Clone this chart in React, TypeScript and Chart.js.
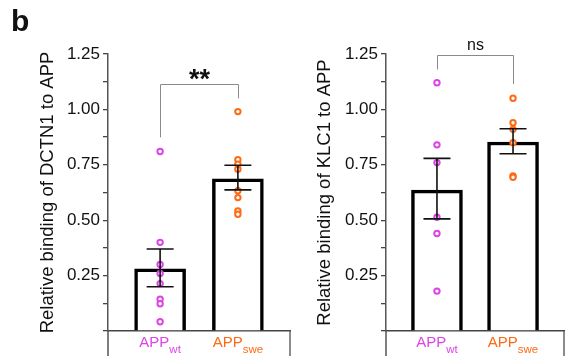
import React, { useEffect, useRef } from 'react';
import { Chart, registerables } from 'chart.js';

Chart.register(...registerables);

const FONT = '"Liberation Sans", Arial, Helvetica, sans-serif';

// ---- shared data ----
const groups = ['wt', 'swe'];
const groupPrefix = 'APP';
const groupColors = ['#dd44e6', '#ff6a14'];
const yTickValues = [0, 0.125, 0.25, 0.375, 0.5, 0.625, 0.75, 0.875, 1.0, 1.125, 1.25];
const yTickLabels = ['', '', '0.25', '', '0.50', '', '0.75', '', '1.00', '', '1.25'];
const panelLetter = 'b';

// ---- DCTN1 panel ----
const dctn1Title = 'Relative binding of DCTN1 to APP';
const dctn1Means = [0.28, 0.687];
const dctn1ErrLow = [0.2, 0.637];
const dctn1ErrHigh = [0.37, 0.748];
const dctn1WtPoints = [0.81, 0.4, 0.3, 0.26, 0.214, 0.143, 0.123, 0.042];
const dctn1SwePoints = [0.99, 0.773, 0.753, 0.73, 0.633, 0.602, 0.542, 0.527];
const dctn1BracketTop = 1.115;
const dctn1BracketLegs = [0.874, 1.05];
const dctn1Sig = '**';

// ---- KLC1 panel ----
const klc1Title = 'Relative binding of KLC1 to APP';
const klc1Means = [0.636, 0.853];
const klc1ErrLow = [0.506, 0.8];
const klc1ErrHigh = [0.779, 0.913];
const klc1WtPoints = [1.12, 0.84, 0.76, 0.513, 0.44, 0.18];
const klc1SwePoints = [1.05, 0.94, 0.91, 0.85, 0.7, 0.694];
const klc1BracketTop = 1.245;
const klc1BracketLegs = [1.18, 1.115];
const klc1Sig = 'ns';

type Panel = {
  id: string;
  title: string;
  means: number[];
  errLow: number[];
  errHigh: number[];
  points: number[][];
  bracketTop: number;
  bracketLegs: number[];
  sig: string;
  sigBold: boolean;
  axisWidth: number;
  titlePad: number;
  padRight: number;
  letter?: string;
};

function buildChart(canvas: HTMLCanvasElement, p: Panel) {
  const plugin = {
    id: 'extras_' + p.id,
    afterDatasetsDraw(chart: any) {
      const { ctx, scales } = chart;
      const x = scales.x;
      const y = scales.y;
      ctx.save();
      ctx.strokeStyle = '#111';
      ctx.lineWidth = 1.6;
      p.errLow.forEach((lo, i) => {
        const cx = x.getPixelForValue(i);
        const y1 = y.getPixelForValue(lo);
        const y2 = y.getPixelForValue(p.errHigh[i]);
        ctx.beginPath();
        ctx.moveTo(cx, y1);
        ctx.lineTo(cx, y2);
        ctx.moveTo(cx - 13.5, y1);
        ctx.lineTo(cx + 13.5, y1);
        ctx.moveTo(cx - 13.5, y2);
        ctx.lineTo(cx + 13.5, y2);
        ctx.stroke();
      });
      ctx.restore();
    },
    afterDraw(chart: any) {
      const { ctx, scales, chartArea } = chart;
      const x = scales.x;
      const y = scales.y;
      ctx.save();
      // significance bracket
      const xa = Math.round(x.getPixelForValue(0)) + 0.5;
      const xb = Math.round(x.getPixelForValue(1)) + 0.5;
      const yt = Math.round(y.getPixelForValue(p.bracketTop)) + 0.5;
      ctx.strokeStyle = '#8a8a8a';
      ctx.lineWidth = 1;
      ctx.beginPath();
      ctx.moveTo(xa, y.getPixelForValue(p.bracketLegs[0]));
      ctx.lineTo(xa, yt);
      ctx.lineTo(xb, yt);
      ctx.lineTo(xb, y.getPixelForValue(p.bracketLegs[1]));
      ctx.stroke();
      ctx.fillStyle = '#111';
      ctx.textAlign = 'center';
      ctx.textBaseline = 'alphabetic';
      if (p.sigBold) {
        ctx.font = 'bold 27px ' + FONT;
        ctx.fillText(p.sig, (xa + xb) / 2, yt + 3);
      } else {
        ctx.font = '16px ' + FONT;
        ctx.fillText(p.sig, (xa + xb) / 2, yt - 6);
      }
      // box under x axis
      const bot = chartArea.bottom;
      const boxBottom = bot + 25.5;
      ctx.lineWidth = 1.5;
      ctx.strokeStyle = '#555';
      ctx.beginPath();
      ctx.moveTo(chartArea.left, bot);
      ctx.lineTo(chartArea.left, boxBottom + 1);
      ctx.stroke();
      ctx.strokeStyle = '#666';
      ctx.beginPath();
      ctx.moveTo(chartArea.right, bot);
      ctx.lineTo(chartArea.right, boxBottom);
      ctx.stroke();
      ctx.strokeStyle = '#d0d0d0';
      ctx.lineWidth = 1;
      ctx.beginPath();
      ctx.moveTo(chartArea.left, boxBottom);
      ctx.lineTo(chartArea.right, boxBottom);
      ctx.stroke();
      // x labels with subscripts
      ctx.textAlign = 'left';
      groups.forEach((g, i) => {
        const cx = x.getPixelForValue(i);
        ctx.font = '15px ' + FONT;
        const wMain = ctx.measureText(groupPrefix).width;
        ctx.font = '11.5px ' + FONT;
        const wSub = ctx.measureText(g).width;
        const start = cx - (wMain + wSub) / 2;
        ctx.fillStyle = groupColors[i];
        ctx.font = '15px ' + FONT;
        ctx.fillText(groupPrefix, start, bot + 15.5);
        ctx.font = '11.5px ' + FONT;
        ctx.fillText(g, start + wMain, bot + 22);
      });
      if (p.letter) {
        ctx.fillStyle = '#111';
        ctx.font = 'bold 30px ' + FONT;
        ctx.textAlign = 'left';
        ctx.fillText(p.letter, 11, 31);
      }
      ctx.restore();
    },
  };

  const datasets: any[] = [
    {
      type: 'bar',
      data: p.means.map((m, i) => ({ x: i, y: m })),
      backgroundColor: '#ffffff',
      borderColor: '#000000',
      borderWidth: 3.5,
      barThickness: 51,
      order: 3,
    },
  ];
  p.points.forEach((pts, i) => {
    datasets.push({
      type: 'scatter',
      data: pts.map((v) => ({ x: i, y: v })),
      pointRadius: 2.7,
      pointBorderWidth: 2,
      pointBackgroundColor: '#ffffff',
      pointBorderColor: groupColors[i],
      order: 1,
    });
  });

  return new Chart(canvas, {
    type: 'bar',
    data: { datasets },
    options: {
      animation: false,
      responsive: false,
      devicePixelRatio: 1,
      layout: { padding: { left: 0, right: p.padRight, top: 54, bottom: 17 } },
      plugins: { legend: { display: false }, tooltip: { enabled: false } },
      scales: {
        x: {
          type: 'linear',
          min: -0.67,
          max: 1.67,
          offset: false,
          ticks: { display: false },
          grid: { display: false },
          border: { display: true, color: '#444', width: 1.5 },
        },
        y: {
          min: 0,
          max: 1.25,
          afterBuildTicks: (s: any) => {
            s.ticks = yTickValues.map((v) => ({ value: v }));
          },
          afterFit: (s: any) => {
            s.width = p.axisWidth;
          },
          ticks: {
            autoSkip: false,
            padding: 3,
            color: '#111',
            font: { family: FONT, size: 17 },
            callback: (_v: any, i: number) => yTickLabels[i],
          },
          grid: { drawOnChartArea: false, tickLength: 5, color: '#444', lineWidth: 1.3 },
          border: { display: true, color: '#555', width: 1.5 },
          title: {
            display: true,
            text: p.title,
            color: '#111',
            font: { family: FONT, size: 18.5 },
            padding: { top: p.titlePad, bottom: 0 },
          },
        },
      },
    },
    plugins: [plugin],
  } as any);
}

export default function App() {
  const leftRef = useRef<HTMLCanvasElement>(null);
  const rightRef = useRef<HTMLCanvasElement>(null);

  useEffect(() => {
    const c1 = buildChart(leftRef.current!, {
      id: 'dctn1',
      title: dctn1Title,
      means: dctn1Means,
      errLow: dctn1ErrLow,
      errHigh: dctn1ErrHigh,
      points: [dctn1WtPoints, dctn1SwePoints],
      bracketTop: dctn1BracketTop,
      bracketLegs: dctn1BracketLegs,
      sig: dctn1Sig,
      sigBold: true,
      axisWidth: 108,
      titlePad: 36.6,
      padRight: 3,
      letter: panelLetter,
    });
    const c2 = buildChart(rightRef.current!, {
      id: 'klc1',
      title: klc1Title,
      means: klc1Means,
      errLow: klc1ErrLow,
      errHigh: klc1ErrHigh,
      points: [klc1WtPoints, klc1SwePoints],
      bracketTop: klc1BracketTop,
      bracketLegs: klc1BracketLegs,
      sig: klc1Sig,
      sigBold: false,
      axisWidth: 90,
      titlePad: 17.5,
      padRight: 2,
    });
    return () => {
      c1.destroy();
      c2.destroy();
    };
  }, []);

  return (
    <div style={{ position: 'fixed', left: 0, top: 0, width: 570, height: 356, background: '#fff' }}>
      <canvas ref={leftRef} width={296} height={356} style={{ position: 'absolute', left: 0, top: 0 }} />
      <canvas ref={rightRef} width={274} height={356} style={{ position: 'absolute', left: 296, top: 0 }} />
    </div>
  );
}
